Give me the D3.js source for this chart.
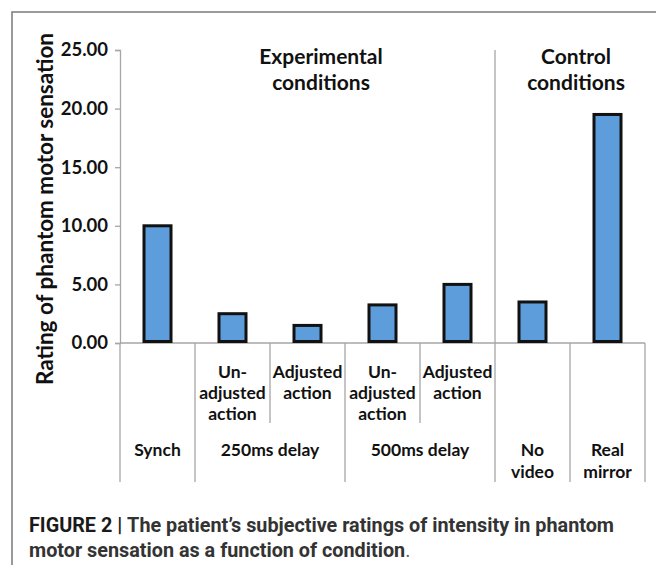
<!DOCTYPE html>
<html>
<head>
<meta charset="utf-8">
<script src="https://cdn.jsdelivr.net/npm/d3@7"></script>
<style>
  body { margin: 0; background: #fff; }
  svg { display: block; }
</style>
</head>
<body>
<svg id="chart"></svg>
<script>
// data
const ratings = [10, 2.5, 1.5, 3.25, 5, 3.5, 19.5];
const innerLabels = [[], ["Un-", "adjusted", "action"], ["Adjusted", "action"], ["Un-", "adjusted", "action"], ["Adjusted", "action"], [], []];
const groupLabels = [["Synch"], ["250ms delay"], ["500ms delay"], ["No", "video"], ["Real", "mirror"]];
const groupSizes = [1, 2, 2, 1, 1];
const yTicks = [0, 5, 10, 15, 20, 25];
const yTitle = "Rating of phantom motor sensation";
const sectionTitles = [["Experimental", "conditions"], ["Control", "conditions"]];
const sectionSizes = [5, 2];

(function () {
    const W = 656, H = 565;
    const plot = { left: 120, right: 645, top: 50, bottom: 343 };
    const labelBottom = 482;
    const axisGrey = "#a6a6a6";
    const font = "Lato, 'Open Sans', sans-serif";

    const svg = d3.select("#chart").attr("width", W).attr("height", H);

    const x = d3.scaleBand()
        .domain(ratings.map((d, i) => i))
        .range([plot.left, plot.right])
        .paddingInner(0.6)
        .paddingOuter(0.3);
    const step = x.step();
    const edge = i => plot.left + i * step;   // category boundary

    const y = d3.scaleLinear()
        .domain([0, 25])
        .range([plot.bottom, plot.top]);

    // outer frame (top and left only)
    svg.append("path")
        .attr("d", `M12,${H} V12 H${W}`)
        .attr("fill", "none")
        .attr("stroke", "#7a7a7a")
        .attr("stroke-width", 1.5);

    // y axis
    const yAxis = svg.append("g")
        .attr("transform", `translate(${plot.left},0)`)
        .call(d3.axisLeft(y).tickValues(yTicks).tickFormat(d3.format(".2f")).tickSize(5).tickPadding(7));
    yAxis.select(".domain").attr("stroke", axisGrey).attr("stroke-width", 1.3);
    yAxis.selectAll(".tick line").attr("stroke", axisGrey).attr("stroke-width", 1.3);
    yAxis.selectAll(".tick text")
        .attr("fill", "#111")
        .style("font-family", font)
        .style("font-weight", 700)
        .style("font-size", "18.5px");

    svg.append("text")
        .attr("transform", `translate(53,209) rotate(-90)`)
        .attr("text-anchor", "middle")
        .attr("textLength", 352)
        .attr("lengthAdjust", "spacingAndGlyphs")
        .style("font-family", font)
        .style("font-weight", 700)
        .style("font-size", "23.5px")
        .attr("fill", "#111")
        .text(yTitle);

    // x axis line and category table lines
    const lines = svg.append("g")
        .attr("stroke", axisGrey)
        .attr("stroke-width", 1.3);
    lines.append("line")
        .attr("x1", plot.left).attr("x2", plot.right)
        .attr("y1", plot.bottom).attr("y2", plot.bottom);

    // group boundaries run full height, inner boundaries only through inner labels
    const groupEdges = [0];
    groupSizes.forEach(s => groupEdges.push(groupEdges[groupEdges.length - 1] + s));
    d3.range(ratings.length + 1).forEach(i => {
        const full = groupEdges.includes(i);
        lines.append("line")
            .attr("x1", edge(i)).attr("x2", edge(i))
            .attr("y1", plot.bottom).attr("y2", full ? labelBottom : 423);
    });

    // divider between experimental and control sections
    lines.append("line")
        .attr("x1", edge(sectionSizes[0])).attr("x2", edge(sectionSizes[0]))
        .attr("y1", plot.top).attr("y2", plot.bottom);

    // bars
    svg.append("g")
        .selectAll("rect")
        .data(ratings)
        .join("rect")
        .attr("x", (d, i) => x(i) + 1.5)
        .attr("y", d => y(d))
        .attr("width", x.bandwidth() - 3)
        .attr("height", d => y(0) - y(d) - 1.5)
        .attr("fill", "#5e9ddc")
        .attr("stroke", "#111")
        .attr("stroke-width", 3);

    // inner category labels
    const labelStyle = sel => sel
        .attr("text-anchor", "middle")
        .attr("fill", "#111")
        .style("font-family", font)
        .style("font-weight", 700)
        .style("font-size", "17.5px");

    innerLabels.forEach((lbl, i) => {
        const t = svg.append("text").call(labelStyle);
        lbl.forEach((line, j) => {
            t.append("tspan")
                .attr("x", x(i) + x.bandwidth() / 2)
                .attr("y", 378 + j * 21)
                .text(line);
        });
    });

    // group labels
    groupLabels.forEach((lbl, g) => {
        const cx = (edge(groupEdges[g]) + edge(groupEdges[g + 1])) / 2;
        const t = svg.append("text").call(labelStyle);
        lbl.forEach((line, j) => {
            t.append("tspan")
                .attr("x", cx)
                .attr("y", 456 + j * 22)
                .text(line);
        });
    });

    // section headings
    const headingX = [321, 576];
    sectionTitles.forEach((lines2, s) => {
        const t = svg.append("text")
            .attr("text-anchor", "middle")
            .attr("fill", "#111")
            .style("font-family", font)
            .style("font-weight", 700)
            .style("font-size", "21px");
        lines2.forEach((line, j) => {
            t.append("tspan")
                .attr("x", headingX[s])
                .attr("y", 64 + j * 26)
                .text(line);
        });
    });

    // caption
    const capFont = "Roboto, 'Liberation Sans', sans-serif";
    const cap1 = svg.append("text")
        .attr("x", 29).attr("y", 532)
        .style("font-family", capFont)
        .style("font-weight", 700)
        .style("font-size", "19.5px");
    cap1.append("tspan").attr("fill", "#1a1a1a").text("FIGURE 2 | ");
    cap1.append("tspan").attr("fill", "#333").text("The patient\u2019s subjective ratings of intensity in phantom");

    const cap2 = svg.append("text")
        .attr("x", 29).attr("y", 557)
        .style("font-family", capFont)
        .style("font-weight", 700)
        .style("font-size", "19.5px");
    cap2.append("tspan").attr("fill", "#333").text("motor sensation as a function of condition");
    cap2.append("tspan").attr("fill", "#666").style("font-weight", 400).text(".");

    // squeeze caption to the condensed width of the original
    const sx = 585 / cap1.node().getComputedTextLength();
    [cap1, cap2].forEach(c => c.attr("transform", `translate(29,0) scale(${sx},1) translate(-29,0)`));
})();
</script>
</body>
</html>
